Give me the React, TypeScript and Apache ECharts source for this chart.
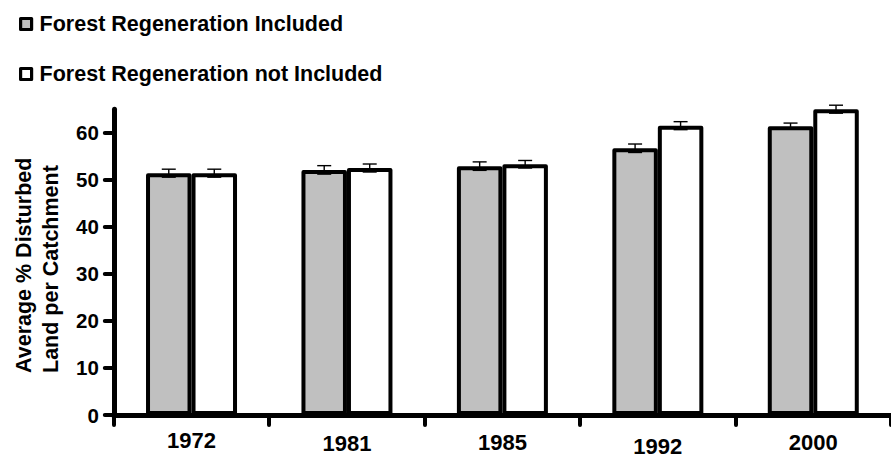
import React, { useEffect, useRef } from "react";
import * as echarts from "echarts";

const categories = ["1972", "1981", "1985", "1992", "2000"];
const seriesNames = ["Forest Regeneration Included", "Forest Regeneration not Included"];
const includedValues = [51.4, 52.1, 52.9, 56.7, 61.4];
const includedErrors = [0.85, 0.9, 0.9, 0.9, 0.65];
const notIncludedValues = [51.4, 52.5, 53.3, 61.5, 65.0];
const notIncludedErrors = [0.85, 0.85, 0.8, 0.85, 0.85];
const yTicks = [0, 10, 20, 30, 40, 50, 60];
const yAxisTitle = ["Average % Disturbed", "Land per Catchment"];
const labelDrop = [0, 3, 2, 6, 2];

const FONT = "'Liberation Sans', Arial, Helvetica, sans-serif";
const BAR_W = 45.5;
const GRAY = "#c0c0c0";

export default function App() {
  const ref = useRef<HTMLDivElement>(null);
  useEffect(() => {
    if (!ref.current) return;
    const chart = echarts.init(ref.current, null, { renderer: "svg" });

    const errSeries = (vals: number[], errs: number[], side: number) => ({
      type: "custom",
      z: 10,
      clip: false,
      silent: true,
      data: vals.map((v, i) => [i, v, errs[i], side]),
      encode: { x: 0, y: 1 },
      renderItem: (params: any, api: any) => {
        const cat = api.value(0);
        const val = api.value(1);
        const err = api.value(2);
        const s = api.value(3);
        const c = api.coord([cat, val]);
        const t = api.coord([cat, val + err]);
        const b = api.coord([cat, val - err]);
        const x = c[0] + (s * BAR_W) / 2;
        const hw = 7;
        const st = { stroke: "#000", lineWidth: 1.4 };
        return {
          type: "group",
          children: [
            { type: "line", shape: { x1: x, y1: t[1], x2: x, y2: b[1] }, style: st },
            { type: "line", shape: { x1: x - hw, y1: t[1], x2: x + hw, y2: t[1] }, style: st },
            { type: "line", shape: { x1: x - hw, y1: b[1], x2: x + hw, y2: b[1] }, style: st },
          ],
        };
      },
    });

    const rich: any = {};
    labelDrop.forEach((d, i) => {
      rich["o" + i] = {
        fontSize: 22,
        fontWeight: "bold",
        fontFamily: FONT,
        color: "#000",
        padding: [d, 0, 0, 0],
      };
    });

    chart.setOption({
      animation: false,
      backgroundColor: "#fff",
      textStyle: { fontFamily: FONT },
      legend: {
        data: seriesNames,
        orient: "vertical",
        left: 14,
        top: 8,
        itemWidth: 11,
        itemHeight: 11,
        itemGap: 28,
        icon: "rect",
        selectedMode: false,
        itemStyle: { borderColor: "#000", borderWidth: 3.2, borderJoin: "round" },
        textStyle: {
          fontSize: 21.5,
          fontWeight: "bold",
          fontFamily: FONT,
          color: "#000",
          padding: [0, 0, 0, 3],
        },
      },
      grid: { left: 113.8, right: -7.7, top: 109.2, bottom: 38.5, containLabel: false },
      xAxis: {
        type: "category",
        data: categories,
        boundaryGap: true,
        axisLine: { show: true, lineStyle: { color: "#000", width: 5, cap: "round" } },
        axisTick: {
          show: true,
          alignWithLabel: false,
          length: 10,
          lineStyle: { color: "#000", width: 4, cap: "round" },
        },
        axisLabel: {
          margin: 14,
          formatter: (v: string) => {
            const i = categories.indexOf(v);
            return "{o" + i + "|" + v + "}";
          },
          rich,
        },
        splitLine: { show: false },
      },
      yAxis: {
        type: "value",
        min: 0,
        max: 65,
        axisLine: { show: true, lineStyle: { color: "#000", width: 5, cap: "round" } },
        axisTick: {
          show: true,
          length: 9,
          customValues: yTicks,
          lineStyle: { color: "#000", width: 4, cap: "round" },
        },
        axisLabel: {
          customValues: yTicks,
          margin: 15,
          fontSize: 20.5,
          fontWeight: "bold",
          fontFamily: FONT,
          color: "#000",
        },
        splitLine: { show: false },
      },
      graphic: [
        {
          type: "text",
          x: 37,
          y: 373,
          rotation: Math.PI / 2,
          style: {
            text: yAxisTitle.join("\n"),
            fontSize: 21.5,
            fontWeight: "bold",
            fontFamily: FONT,
            fill: "#000",
            lineHeight: 27,
            align: "left",
            verticalAlign: "middle",
          },
        },
      ],
      series: [
        {
          name: seriesNames[0],
          type: "bar",
          data: includedValues,
          barWidth: BAR_W,
          barGap: "0%",
          itemStyle: { color: GRAY, borderColor: "#000", borderWidth: 4, borderJoin: "round" },
          z: 2,
        },
        {
          name: seriesNames[1],
          type: "bar",
          data: notIncludedValues,
          barWidth: BAR_W,
          barGap: "0%",
          itemStyle: { color: "#fff", borderColor: "#000", borderWidth: 4, borderJoin: "round" },
          z: 2,
        },
        errSeries(includedValues, includedErrors, -1),
        errSeries(notIncludedValues, notIncludedErrors, 1),
      ],
    });
    return () => chart.dispose();
  }, []);
  return (
    <div
      ref={ref}
      style={{ position: "fixed", left: 0, top: 0, width: 891, height: 457, background: "#fff" }}
    />
  );
}
